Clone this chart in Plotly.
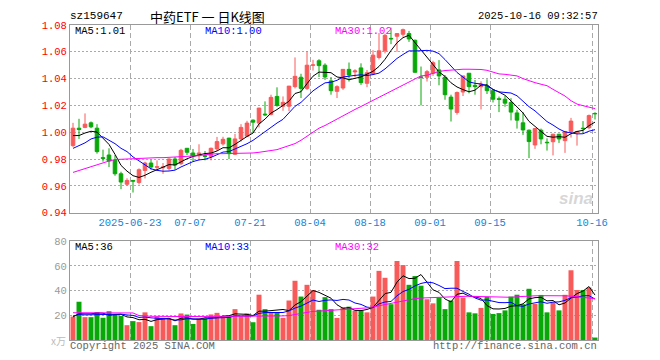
import plotly.graph_objects as go
import pandas as pd

# ---------------- data ----------------
tick_idx = [10, 20, 30, 40, 50, 60, 70, 87]
tick_labels = ["2025-06-23", "07-07", "07-21", "08-04", "08-18", "09-01", "09-15", "10-16"]

opens = [0.990, 1.003, 1.0036, 1.007, 1.003, 0.981, 0.983, 0.979, 0.969, 0.9612,
         0.964, 0.9625, 0.9715, 0.977, 0.9738, 0.9735, 0.973, 0.980, 0.9765, 0.988,
         0.9845, 0.9825, 0.9825, 0.982, 0.9875, 0.9913, 0.9956, 0.9835, 0.995, 0.997,
         1.009, 1.0068, 1.0135, 1.0133, 1.0267, 1.0194, 1.0194, 1.034, 1.041, 1.0327,
         1.0500, 1.0533, 1.050, 1.0383, 1.0305, 1.033, 1.0469, 1.045, 1.048, 1.0365,
         1.0435, 1.0558, 1.0607, 1.070, 1.0716, 1.0731, 1.0736, 1.0686, 1.0412, 1.041,
         1.044, 1.0465, 1.041, 1.0262, 1.0148, 1.030, 1.044, 1.035, 1.034, 1.0343,
         1.031, 1.025, 1.0246, 1.0222, 1.0144, 1.007, 1.0015, 0.9905, 1.0015, 0.9925,
         0.9929, 0.9985, 0.9937, 1.0005, 1.000, 1.003, 1.0034, 1.014]
highs = [1.007, 1.010, 1.014, 1.008, 1.006, 0.987, 0.988, 0.983, 0.9705, 0.9656,
         0.964, 0.973, 0.978, 0.9795, 0.979, 0.977, 0.9805, 0.9815, 0.9876, 0.988,
         0.9875, 0.991, 0.986, 0.9885, 0.9965, 0.9966, 0.9958, 0.9988, 1.006, 1.0085,
         1.0095, 1.0182, 1.023, 1.028, 1.0335, 1.0267, 1.0345, 1.0558, 1.0436, 1.0606,
         1.054, 1.0545, 1.0514, 1.0412, 1.035, 1.047, 1.052, 1.047, 1.0514, 1.0464,
         1.0612, 1.074, 1.0736, 1.078, 1.0738, 1.0773, 1.0756, 1.0691, 1.049, 1.0464,
         1.0533, 1.0538, 1.0427, 1.028, 1.0304, 1.042, 1.044, 1.039, 1.038, 1.0395,
         1.031, 1.0266, 1.027, 1.0254, 1.0168, 1.015, 1.002, 1.0027, 1.0027, 0.9954,
         0.9988, 0.9988, 1.001, 1.0107, 1.001, 1.0083, 1.0132, 1.0149]
lows = [0.989, 0.995, 1.003, 1.003, 0.984, 0.978, 0.974, 0.9675, 0.9575, 0.960,
        0.955, 0.961, 0.9655, 0.972, 0.971, 0.969, 0.9716, 0.972, 0.9755, 0.983,
        0.9785, 0.979, 0.979, 0.979, 0.986, 0.990, 0.980, 0.983, 0.993, 0.9964,
        0.9995, 1.0036, 1.012, 1.0125, 1.019, 1.016, 1.0158, 1.0327, 1.0255, 1.0315,
        1.046, 1.0412, 1.039, 1.028, 1.0255, 1.0316, 1.0378, 1.041, 1.0353, 1.0336,
        1.0427, 1.0543, 1.0588, 1.0657, 1.060, 1.0713, 1.0674, 1.0445, 1.020, 1.0378,
        1.042, 1.035, 1.0242, 1.008, 1.0131, 1.027, 1.029, 1.028, 1.017, 1.0285,
        1.0222, 1.015, 1.019, 1.0088, 1.0027, 0.998, 0.9807, 0.9876, 0.991, 0.9863,
        0.9827, 0.992, 0.9846, 0.996, 0.990, 0.9998, 1.0022, 1.0095]
closes = [1.003, 1.002, 1.006, 1.004, 0.9855, 0.9805, 0.9785, 0.969, 0.9628, 0.964,
          0.9635, 0.972, 0.977, 0.974, 0.9742, 0.974, 0.980, 0.9755, 0.9865, 0.985,
          0.9825, 0.9845, 0.982, 0.988, 0.993, 0.9947, 0.984, 0.995, 1.0036, 1.0068,
          1.0075, 1.018, 1.013, 1.026, 1.020, 1.0223, 1.0344, 1.0417, 1.0327, 1.050,
          1.0502, 1.0497, 1.0412, 1.031, 1.034, 1.0469, 1.0427, 1.0457, 1.037, 1.0444,
          1.0575, 1.0607, 1.0723, 1.0697, 1.0736, 1.0765, 1.0696, 1.0447, 1.041, 1.0452,
          1.0519, 1.042, 1.028, 1.0173, 1.0296, 1.042, 1.034, 1.034, 1.036, 1.031,
          1.0246, 1.0245, 1.0217, 1.015, 1.009, 1.0017, 0.993, 1.0027, 0.995, 0.9922,
          0.9985, 0.995, 1.0005, 1.0083, 1.0005, 1.0027, 1.0124, 1.0138]
# closes before the visible window (estimated from where the MA lines start)
prior_closes = [0.982, 0.985, 0.975, 0.972, 0.978, 1.002, 0.9965, 0.9975, 0.9885]
# 30-day average line
ma30_price = [0.970, 0.9715, 0.973, 0.9745, 0.976, 0.9772, 0.9785, 0.9796, 0.980, 0.980,
              0.9802, 0.9805, 0.9805, 0.9807, 0.981, 0.981, 0.9812, 0.9815, 0.9818, 0.982,
              0.9822, 0.9825, 0.9832, 0.9838, 0.984, 0.984, 0.984, 0.984, 0.984, 0.9842,
              0.9845, 0.985, 0.9855, 0.9862, 0.987, 0.9885, 0.990, 0.9915, 0.994, 0.997,
              1.0005, 1.003, 1.005, 1.0075, 1.010, 1.0125, 1.0146, 1.017, 1.0192, 1.0215,
              1.0238, 1.026, 1.0285, 1.031, 1.0333, 1.0354, 1.0375, 1.040, 1.042, 1.0425,
              1.044, 1.0453, 1.046, 1.0465, 1.047, 1.047, 1.047, 1.047, 1.0468, 1.0462,
              1.0448, 1.0435, 1.0432, 1.0428, 1.042, 1.040, 1.0382, 1.037, 1.0358, 1.0347,
              1.032, 1.0295, 1.027, 1.0235, 1.021, 1.0198, 1.0185, 1.0176]

volumes = [19, 31, 18.5, 18.5, 22.5, 18, 23.3, 20.7, 19.5, 12,
           15.3, 14.5, 22.4, 11.2, 19, 18, 17.5, 12, 21.5, 20.6,
           13, 17.3, 17.6, 20.7, 22, 19.2, 19, 25, 19.2, 21.5,
           14.4, 36.7, 25, 22, 22, 17.9, 32, 48, 35.2, 44.7,
           40.5, 24.5, 34.7, 25, 17.9, 26.4, 27, 23.8, 24, 22.4,
           35.2, 56, 50.4, 29, 64, 60.7, 44.7, 51.8, 44, 33,
           29.7, 34.5, 25, 32, 64, 34.4, 22.4, 21.6, 26, 35,
           21.1, 21.8, 24, 35.2, 36.7, 29, 41.5, 29.2, 36.5, 22.4,
           30.4, 24, 36.6, 56.5, 40.5, 40.5, 42.5, 2.0]
prior_volumes = [20, 21, 19, 22, 19.5, 18, 19, 18.5, 19]
ma30_volume = [22.1, 22.1, 22.1, 22.1, 22.0, 22.0, 22.0, 22.0, 22.0, 21.9, 21.9,
               19.8, 19.3, 19.2, 19.2, 19.0, 19.0, 19.0, 19.0, 19.0, 19.0, 19.1, 19.1,
               19.0, 19.0, 19.0, 19.0, 19.2, 19.3, 19.4, 19.0,
               19.3, 19.4, 19.4, 19.4, 19.5, 19.8, 20.8, 21.6, 22.5, 23.2, 23.4, 23.7,
               24.0, 24.0, 24.2, 24.5, 24.9, 25.4, 26.0, 26.8, 27.8, 28.5, 29.5, 31.0,
               32.0, 33.0, 33.5, 34.0, 34.2, 34.4, 34.8, 35.0, 35.4, 35.7, 35.7, 35.5,
               35.3, 35.2, 35.0, 34.5, 34.4, 34.4, 34.6, 35.0, 35.4, 35.7, 35.8, 35.9,
               36.0, 36.0, 36.0, 35.8, 35.5, 35.0, 34.5, 34.0, 33.5]

price_ticks = [0.94, 0.96, 0.98, 1.00, 1.02, 1.04, 1.06, 1.08]
volume_ticks = [20, 40, 60, 80]

# ---------------- derived ----------------
n = len(closes)
idx = list(range(n))
cs = pd.Series(prior_closes + closes)
ma5 = cs.rolling(5).mean().tolist()[len(prior_closes):]
ma10 = cs.rolling(10).mean().tolist()[len(prior_closes):]
vs = pd.Series(prior_volumes + volumes)
vma5 = vs.rolling(5).mean().tolist()[len(prior_volumes):]
vma10 = vs.rolling(10).mean().tolist()[len(prior_volumes):]

RED = "#F85A5A"
GREEN = "#08A808"
bar_colors = [RED if c >= o else GREEN for o, c in zip(opens, closes)]

MONO = "Liberation Mono, DejaVu Sans Mono, monospace"

# page body has an 8px default margin: shrink the figure and shift coordinates
OFF = 8
FW, FH = 660 - OFF, 360 - OFF
# plot box in (window) pixels
L, R, T, B = 70, 598, 21, 340
W, H = R - L, B - T


def px(x, y):
    return (x - L) / W, (B - y) / H


fig = go.Figure()
fig.add_trace(go.Candlestick(
    x=idx, open=opens, high=highs, low=lows, close=closes,
    increasing=dict(line=dict(color=RED, width=1), fillcolor=RED),
    decreasing=dict(line=dict(color=GREEN, width=1), fillcolor=GREEN),
    whiskerwidth=0, showlegend=False, hoverinfo="skip", xaxis="x", yaxis="y"))
for ys, col in [(ma5, "#000000"), (ma10, "#0000FF"), (ma30_price, "#FF00FF")]:
    fig.add_trace(go.Scatter(x=idx, y=ys, mode="lines", line=dict(color=col, width=1),
                             showlegend=False, hoverinfo="skip", xaxis="x", yaxis="y"))

fig.add_trace(go.Bar(x=idx, y=volumes, marker=dict(color=bar_colors, line=dict(width=0)),
                     width=0.83, showlegend=False, hoverinfo="skip", xaxis="x2", yaxis="y2"))
for ys, col in [(vma5, "#000000"), (vma10, "#0000FF"), (ma30_volume, "#FF00FF")]:
    fig.add_trace(go.Scatter(x=idx, y=ys, mode="lines", line=dict(color=col, width=1),
                             showlegend=False, hoverinfo="skip", xaxis="x2", yaxis="y2"))

grid_x = [i - 0.5 for i in tick_idx]
common_x = dict(range=[-0.5, n - 0.5], showgrid=True, gridcolor="#AAAAAA", gridwidth=1,
                griddash="5px,3px", zeroline=False, showline=True, mirror=True,
                linecolor="#999999", linewidth=1, ticks="", fixedrange=True,
                rangeslider=dict(visible=False))

price_dom = ((B - 211) / H, 1.0)
vol_dom = (0.0, (B - 240) / H)

fig.update_layout(
    width=FW, height=FH,
    margin=dict(l=L - OFF, r=660 - R, t=T - OFF, b=360 - B),
    paper_bgcolor="white", plot_bgcolor="white",
    boxgap=0.15,
    bargap=0.1,
    font=dict(family=MONO, size=10, color="#000"),
    xaxis=dict(common_x, anchor="y", domain=[0, 1], tickvals=grid_x, ticktext=tick_labels,
               tickfont=dict(family=MONO, size=10.5, color="#1484D6")),
    xaxis2=dict(common_x, anchor="y2", domain=[0, 1], tickvals=grid_x,
                showticklabels=False, matches="x"),
    yaxis=dict(domain=list(price_dom), range=[0.94, 1.08], tickvals=price_ticks,
               ticktext=[f"{v:.2f}" for v in price_ticks],
               tickfont=dict(family=MONO, size=10.5, color="#FF0000"),
               showgrid=True, gridcolor="#AAAAAA", griddash="2px,2px", zeroline=False,
               showline=True, mirror=True, linecolor="#999999", linewidth=1, ticks="",
               fixedrange=True),
    yaxis2=dict(domain=list(vol_dom), range=[0, 80], tickvals=volume_ticks,
                ticktext=[str(v) for v in volume_ticks],
                tickfont=dict(family=MONO, size=10.5, color="#999999"),
                showgrid=True, gridcolor="#AAAAAA", griddash="2px,2px", zeroline=False,
                showline=True, mirror=True, linecolor="#999999", linewidth=1, ticks="",
                fixedrange=True),
)


def label(text, x, y, color="#000", size=10.5, anchor="left", family=MONO, **kw):
    ax, ay = px(x, y)
    fig.add_annotation(text=text, x=ax, y=ay, xref="paper", yref="paper",
                       xanchor=anchor, yanchor="middle", showarrow=False, borderpad=0,
                       font=dict(family=family, size=size, color=color), **kw)


NB = "\u00a0"
label("sz159647", 69, 12, size=11)
label(f"中药ETF{NB}一{NB}日K线图", 149, 12, size=13, family="Noto Sans CJK SC, sans-serif")
label("2025-10-16 09:32:57", 599, 12, size=10.5, anchor="right")
label(f"MA5:{ma5[-1]:.2f}", 74, 27.5)
label(f"MA10:{ma10[-1]:.2f}", 204, 27.5, color="#0000FF")
label(f"MA30:{ma30_price[-1]:.2f}", 334, 27.5, color="#FF00FF")
label("MA5:36", 74, 246)
label("MA10:33", 204, 246, color="#0000FF")
label("MA30:32", 334, 246, color="#FF00FF")
label("Copyright 2025 SINA.COM", 69, 346, color="#666666")
label("http://finance.sina.com.cn", 598, 346, color="#666666", anchor="right")
label("x万", 50, 341, color="#BBBBBB", size=10, family="Noto Sans CJK SC, sans-serif")
label("<b><i>sina</i></b>", 594, 197, color="rgba(180,180,180,0.55)", size=17,
      anchor="right", family="Arial, Liberation Sans, sans-serif")

fig.write_html("out.html")
